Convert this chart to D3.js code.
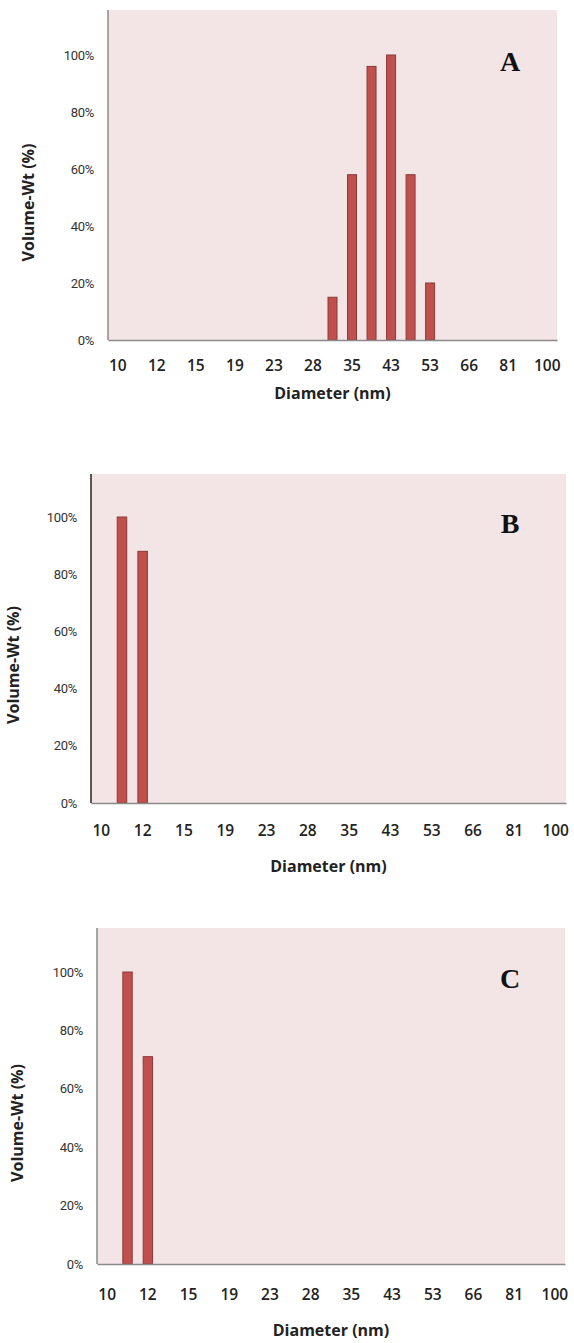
<!DOCTYPE html>
<html>
<head>
<meta charset="utf-8">
<script src="https://cdn.jsdelivr.net/npm/d3@7"></script>
<style>
  body { margin: 0; background: #fff; }
  svg { display: block; }
  .ytick text { font-family: "Liberation Sans Narrow", "Arial Narrow", "Roboto", sans-serif; font-size: 13px; fill: #333; letter-spacing: -0.3px; }
  .xtick text { font-family: "Open Sans", sans-serif; font-weight: 600; font-size: 15.5px; fill: #222; }
  .title { font-family: "Open Sans", sans-serif; font-weight: 700; font-size: 16px; fill: #222; }
  .panel-label { font-family: "Liberation Serif", "Times New Roman", serif; font-weight: 700; font-size: 28px; fill: #111; }
</style>
</head>
<body>
<div id="chart"></div>
<script>
// size classes (nm); only every other one carries a label
const diameters = [10, 11, 12, 13.5, 15, 17, 19, 21, 23, 25.5, 28, 31.5, 35, 39, 43, 48, 53, 59, 66, 73, 81, 90, 100];
const tickLabels = ["10", "12", "15", "19", "23", "28", "35", "43", "53", "66", "81", "100"];
const yTicks = [0, 0.2, 0.4, 0.6, 0.8, 1.0];

// volume-weighted fraction per size class
const volA = [0, 0, 0, 0, 0, 0, 0, 0, 0, 0, 0, 0.15, 0.58, 0.96, 1.00, 0.58, 0.20, 0, 0, 0, 0, 0, 0];
const volB = [0, 1.00, 0.88, 0, 0, 0, 0, 0, 0, 0, 0, 0, 0, 0, 0, 0, 0, 0, 0, 0, 0, 0, 0];
const volC = [0, 1.00, 0.71, 0, 0, 0, 0, 0, 0, 0, 0, 0, 0, 0, 0, 0, 0, 0, 0, 0, 0, 0, 0];

const W = 574, H = 1343;
const svg = d3.select("#chart").append("svg").attr("width", W).attr("height", H);

function drawPanel({values, label, left, right, top, bottom, y100, yTitleX, xTitleY, xLabelY, axisColor}) {
    const g = svg.append("g");

    const x = d3.scaleBand().domain(diameters).range([left, right]).paddingInner(0.54).paddingOuter(0.27);
    const y = d3.scaleLinear().domain([0, 1]).range([bottom, y100]);

    g.append("rect")
        .attr("x", left).attr("y", top)
        .attr("width", right - left).attr("height", bottom - top)
        .attr("fill", "#f3e5e6");

    g.selectAll(".bar")
        .data(diameters.map((d, i) => ({d, v: values[i]})).filter(e => e.v > 0))
        .join("rect")
        .attr("class", "bar")
        .attr("x", e => x(e.d))
        .attr("width", x.bandwidth())
        .attr("y", e => y(e.v))
        .attr("height", e => y(0) - y(e.v))
        .attr("fill", "#c0504d")
        .attr("stroke", "#8c3836")
        .attr("stroke-width", 1);

    // x axis: labels on every other category
    const xAxis = d3.axisBottom(x)
        .tickValues(diameters.filter((d, i) => i % 2 === 0))
        .tickFormat((d, i) => tickLabels[i])
        .tickSize(0).tickPadding(xLabelY - bottom);
    const xg = g.append("g").attr("class", "xtick").attr("transform", `translate(0,${bottom})`).call(xAxis);
    xg.select(".domain").attr("stroke", "#8a8a8a").attr("stroke-width", 1.5);
    xg.selectAll("text").attr("dy", "0.35em");

    const yAxis = d3.axisLeft(y).tickValues(yTicks).tickFormat(d3.format(".0%")).tickSize(0).tickPadding(14);
    const yg = g.append("g").attr("class", "ytick").attr("transform", `translate(${left},0)`).call(yAxis);
    yg.select(".domain").remove();

    g.append("line")
        .attr("x1", left).attr("x2", left)
        .attr("y1", top).attr("y2", bottom)
        .attr("stroke", axisColor).attr("stroke-width", 1.5);

    g.append("text").attr("class", "title")
        .attr("transform", `translate(${yTitleX},${(y100 + bottom) / 2 + 5}) rotate(-90)`)
        .attr("text-anchor", "middle").attr("dy", "0.35em")
        .text("Volume-Wt (%)");

    g.append("text").attr("class", "title")
        .attr("x", (left + right) / 2).attr("y", xTitleY)
        .attr("text-anchor", "middle").attr("dy", "0.35em")
        .text("Diameter (nm)");

    g.append("text").attr("class", "panel-label")
        .attr("x", 510).attr("y", y(0.98))
        .attr("text-anchor", "middle").attr("dy", "0.35em")
        .text(label);
}

drawPanel({values: volA, label: "A", left: 108, right: 557, top: 10, bottom: 340, y100: 55,
    yTitleX: 28, xTitleY: 393, xLabelY: 366, axisColor: "#8a8a8a"});
drawPanel({values: volB, label: "B", left: 91, right: 566, top: 474, bottom: 803, y100: 517,
    yTitleX: 13, xTitleY: 866, xLabelY: 831, axisColor: "#222"});
drawPanel({values: volC, label: "C", left: 97, right: 565, top: 928, bottom: 1264, y100: 972,
    yTitleX: 17, xTitleY: 1330, xLabelY: 1295, axisColor: "#8a8a8a"});
</script>
</body>
</html>
